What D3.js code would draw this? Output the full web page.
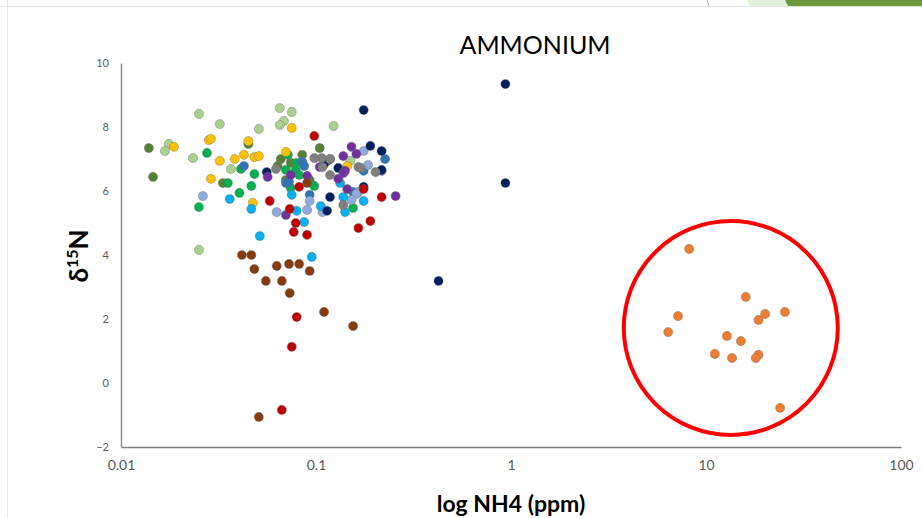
<!DOCTYPE html>
<html>
<head>
<meta charset="utf-8">
<script src="https://cdn.jsdelivr.net/npm/d3@7"></script>
<style>
  body { margin: 0; background: #fff; }
  svg { display: block; }
</style>
</head>
<body>
<div id="chart"></div>
<script>
// chart values (x = NH4 ppm, y = d15N)
var lightGreen = [[0.0251,8.41],[0.0321,8.09],[0.0652,8.59],[0.0751,8.47],[0.0684,8.19],[0.0652,8.06],[0.0509,7.94],[0.0176,7.47],[0.0168,7.25],[0.0234,7.03],[0.0366,6.69],[0.123,8.03],[0.150,6.94],[0.0251,4.16]];
var darkOlive = [[0.0139,7.34],[0.0146,6.44],[0.045,7.47],[0.0333,6.25],[0.066,7.0],[0.0636,6.78],[0.085,7.13],[0.0742,6.88],[0.070,6.34],[0.0928,6.34],[0.1045,7.34],[0.114,6.94]];
var green = [[0.0276,7.19],[0.0353,6.25],[0.0718,7.13],[0.0412,6.69],[0.0483,6.53],[0.0466,6.16],[0.0405,5.94],[0.0251,5.5],[0.0796,6.88],[0.0701,6.66],[0.0787,6.66],[0.082,6.5],[0.098,6.16],[0.0742,6.09],[0.155,5.47]];
var yellow = [[0.0187,7.38],[0.0282,7.59],[0.0289,7.63],[0.045,7.56],[0.0321,6.94],[0.0383,7.0],[0.0427,7.13],[0.0483,7.06],[0.0509,7.09],[0.0701,7.22],[0.0751,7.97],[0.0289,6.38],[0.0474,5.63],[0.1445,6.78]];
var blue = [[0.0427,6.78],[0.0701,6.25],[0.085,6.91],[0.087,6.78],[0.0727,6.28],[0.0928,5.88],[0.226,7.0],[0.217,6.63],[0.1755,6.63],[0.155,5.97]];
var lightBlue = [[0.0263,5.84],[0.0629,5.34],[0.090,5.41],[0.0928,5.69],[0.1755,7.25],[0.185,6.81],[0.165,5.97],[0.161,5.91],[0.152,5.72],[0.108,5.34]];
var cyan = [[0.0361,5.75],[0.0466,5.44],[0.0751,5.88],[0.0796,5.38],[0.1057,5.53],[0.087,5.03],[0.138,5.81],[0.1755,5.69],[0.141,5.34],[0.133,6.25],[0.0515,4.59],[0.0951,3.94]];
var navy = [[0.0559,6.59],[0.1755,8.53],[0.190,7.41],[0.217,7.25],[0.130,6.72],[0.110,6.84],[0.1755,6.13],[0.118,5.81],[0.114,5.38],[0.217,6.66],[0.936,9.34],[0.936,6.25],[0.425,3.19]];
var purple = [[0.0565,6.44],[0.0742,6.5],[0.090,6.47],[0.0701,5.25],[0.152,7.38],[0.161,7.16],[0.138,7.09],[0.118,7.0],[0.141,6.63],[0.138,6.56],[0.130,6.38],[0.1445,6.06],[0.256,5.84],[0.1045,6.75]];
var gray = [[0.0623,6.69],[0.098,7.03],[0.107,7.03],[0.118,7.0],[0.108,6.75],[0.118,6.5],[0.165,6.75],[0.170,6.72],[0.202,6.59],[0.138,5.56]];
var red = [[0.098,7.72],[0.0579,5.69],[0.0733,5.44],[0.082,6.13],[0.0787,5.0],[0.0769,4.72],[0.090,4.63],[0.1755,6.06],[0.217,5.81],[0.190,5.06],[0.165,4.84],[0.0796,2.06],[0.0751,1.13],[0.0668,-0.84]];
var brown = [[0.0417,4.0],[0.0466,4.0],[0.0483,3.56],[0.0629,3.66],[0.0727,3.72],[0.082,3.72],[0.0928,3.5],[0.0553,3.19],[0.0668,3.19],[0.0733,2.81],[0.110,2.22],[0.155,1.78],[0.0509,-1.06],[0.090,6.25]];
var orange = [[8.20,4.19],[16.0,2.69],[7.19,2.09],[20.1,2.16],[25.4,2.22],[18.6,1.97],[6.40,1.59],[12.8,1.47],[15.1,1.31],[11.1,0.91],[13.6,0.78],[18.6,0.88],[18.0,0.78],[24.0,-0.78]];

var xTicks = [0.01, 0.1, 1, 10, 100];
var yTicks = [-2, 0, 2, 4, 6, 8, 10];

// circled group centre (data units)
var circleCentre = [13.4, 1.72];

var seriesList = [
  { data: lightGreen, color: "#a9d18e" },
  { data: darkOlive, color: "#548235" },
  { data: green, color: "#00b050" },
  { data: yellow, color: "#ffc000" },
  { data: blue, color: "#2e75b6" },
  { data: lightBlue, color: "#8faadc" },
  { data: cyan, color: "#00b0f0" },
  { data: navy, color: "#002060" },
  { data: purple, color: "#7030a0" },
  { data: gray, color: "#7f7f7f" },
  { data: red, color: "#c00000" },
  { data: brown, color: "#843c0c" },
  { data: orange, color: "#ed7d31" }
];

var W = 922, H = 518;
var margin = { top: 63, right: 21, bottom: 71, left: 121 };
var width = W - margin.left - margin.right,
    height = H - margin.top - margin.bottom;

var svg = d3.select("#chart").append("svg")
  .attr("width", W)
  .attr("height", H);

// slide decoration (top band + left rule)
svg.append("line").attr("x1", 0).attr("x2", W).attr("y1", 6.5).attr("y2", 6.5)
  .attr("stroke", "#e3e3e3").attr("stroke-width", 1);
svg.append("line").attr("x1", 7.5).attr("x2", 7.5).attr("y1", 0).attr("y2", H)
  .attr("stroke", "#e6e6e6").attr("stroke-width", 1);
svg.append("line").attr("x1", 707).attr("x2", 709).attr("y1", 0).attr("y2", 6)
  .attr("stroke", "#b0b0b0").attr("stroke-width", 1);
svg.append("polygon").attr("points", "747,0 787,0 787,6 750,6").attr("fill", "#e2efd9");
svg.append("polygon").attr("points", "785,0 922,0 922,6 788,6").attr("fill", "#6a9a3c");

var g = svg.append("g").attr("transform", "translate(" + margin.left + "," + margin.top + ")");

var x = d3.scaleLog().domain([0.01, 100]).range([0, width]);
var y = d3.scaleLinear().domain([-2, 10]).range([height, 0]);

// axes
var xAxis = g.append("g")
  .attr("transform", "translate(0," + height + ")")
  .call(d3.axisBottom(x).tickValues(xTicks).tickSize(0).tickFormat(d3.format("~g")));
xAxis.select(".domain").attr("stroke", "#7f7f7f").attr("stroke-width", 1.3);
xAxis.selectAll("text")
  .attr("dy", "1.45em")
  .attr("fill", "#595959")
  .style("font-family", "Lato, 'Open Sans', sans-serif")
  .style("font-size", "14px");

var yAxis = g.append("g")
  .call(d3.axisLeft(y).tickValues(yTicks).tickSize(0).tickPadding(12));
yAxis.select(".domain").attr("stroke", "#7f7f7f").attr("stroke-width", 1.3);
yAxis.selectAll("text")
  .attr("fill", "#595959")
  .style("font-family", "Lato, 'Open Sans', sans-serif")
  .style("font-size", "11px");

// points
seriesList.forEach(function (s) {
  g.append("g").selectAll("circle")
    .data(s.data)
    .enter().append("circle")
    .attr("cx", function (d) { return x(d[0]); })
    .attr("cy", function (d) { return y(d[1]); })
    .attr("r", 4.6)
    .attr("fill", s.color)
    .attr("stroke", "#6f6f6f")
    .attr("stroke-opacity", 0.6)
    .attr("stroke-width", 0.7);
});

// red circle round the orange group
g.append("circle")
  .attr("cx", x(circleCentre[0]))
  .attr("cy", y(circleCentre[1]))
  .attr("r", 107)
  .attr("fill", "none")
  .attr("stroke", "#ff0000")
  .attr("stroke-width", 4);

// title
svg.append("text")
  .attr("x", 535).attr("y", 54)
  .attr("text-anchor", "middle")
  .style("font-family", "Lato, 'Open Sans', sans-serif")
  .style("font-size", "25px")
  .attr("fill", "#000")
  .text("AMMONIUM");

// x label
svg.append("text")
  .attr("x", 511).attr("y", 512)
  .attr("text-anchor", "middle")
  .style("font-family", "Lato, 'Open Sans', sans-serif")
  .style("font-size", "23px")
  .style("font-weight", "bold")
  .attr("fill", "#000")
  .text("log NH4 (ppm)");

// y label
var yl = svg.append("text")
  .attr("transform", "translate(88,256) rotate(-90)")
  .attr("text-anchor", "middle")
  .style("font-family", "Lato, 'Open Sans', sans-serif")
  .style("font-weight", "bold")
  .attr("fill", "#000");
yl.append("tspan").style("font-size", "26px").text("δ");
yl.append("tspan").style("font-size", "16px").attr("dy", "-10").text("15");
yl.append("tspan").style("font-size", "26px").attr("dy", "10").text("N");
</script>
</body>
</html>
